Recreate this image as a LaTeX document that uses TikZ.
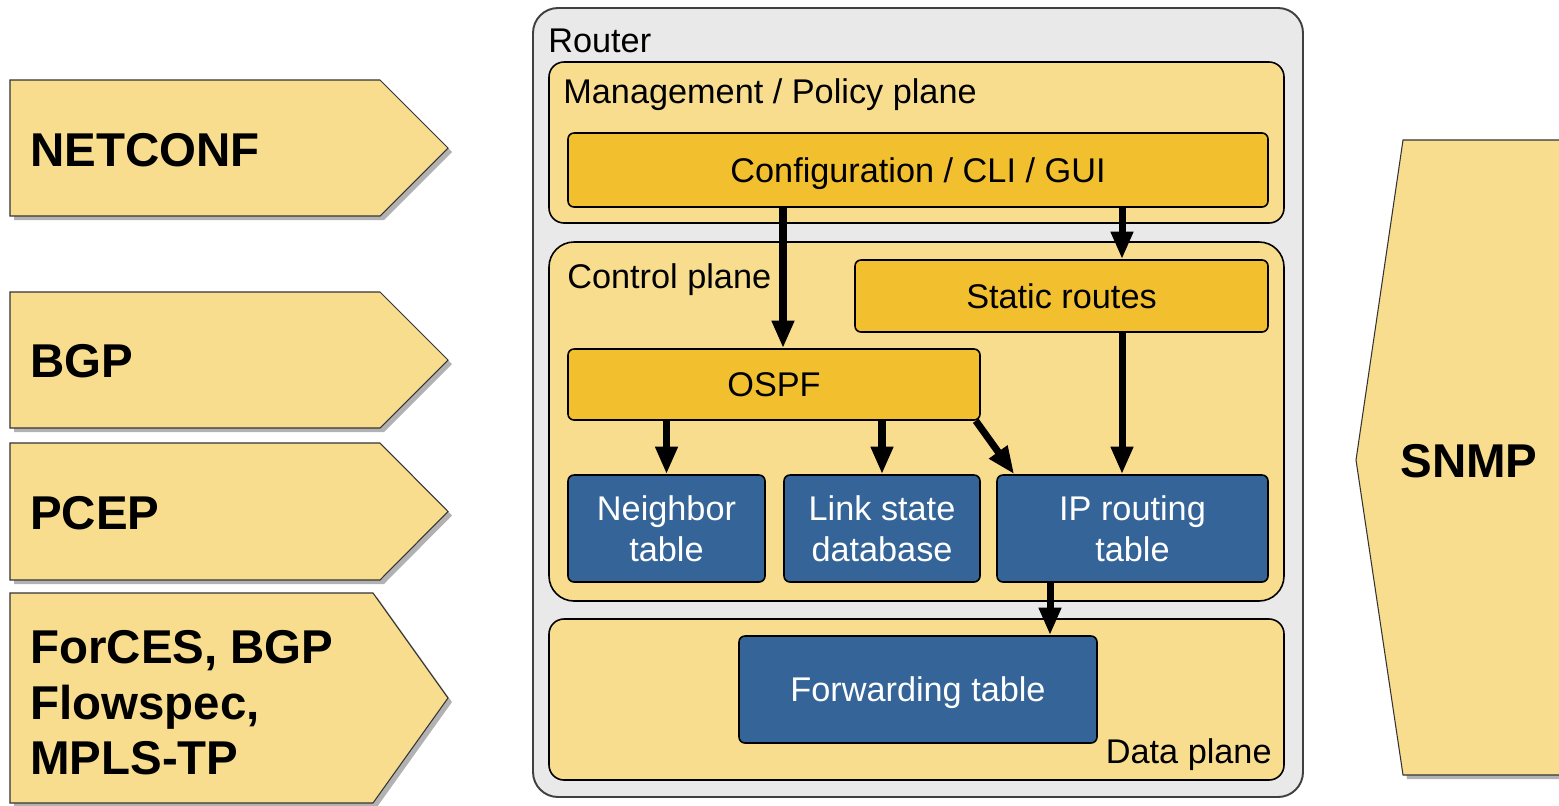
\documentclass[tikz,border=0pt]{standalone}
\usepackage{fontspec}
\setmainfont{Liberation Sans}
\usetikzlibrary{arrows.meta,positioning,shadows,calc}
\definecolor{planeyellow}{RGB}{248,221,143}
\definecolor{boxgold}{RGB}{242,192,46}
\definecolor{tableblue}{RGB}{53,101,152}
\definecolor{routergray}{RGB}{233,233,233}
\newcommand{\rtfont}{\fontsize{19.5}{23.3}\selectfont}

\begin{document}
\begin{tikzpicture}[
  plane/.style={draw=black, line width=0.9pt, fill=planeyellow, rounded corners=0.3cm, inner sep=0pt},
  funcbox/.style={draw=black, line width=0.9pt, fill=boxgold, rounded corners=0.12cm, inner sep=0pt,
    font=\rtfont, text height=14pt, text depth=0pt},
  tablebox/.style={draw=black, line width=0.9pt, fill=tableblue, text=white, rounded corners=0.12cm,
    inner sep=0pt, align=center, font=\rtfont},
  flow/.style={line width=4pt, -{Triangle[length=0.55cm,width=0.42cm]}},
  proto/.style={draw=black!80, line width=0.6pt, fill=planeyellow,
    drop shadow={shadow xshift=0.08cm, shadow yshift=-0.08cm, fill=black, opacity=0.3}},
  protolabel/.style={font=\fontsize{27}{31.5}\selectfont\bfseries, inner sep=0pt, align=left},
  planelabel/.style={font=\rtfont, inner sep=0pt},
]
\useasboundingbox (0,0) rectangle (31.18,-16.1);

% Protocols pointing at the router
\draw[proto] (0.2,-1.6) -- (7.6,-1.6) -- (8.96,-2.96) -- (7.6,-4.32) -- (0.2,-4.32) -- cycle;
\node[protolabel, anchor=base west] (netconf) at (0.6,-3.32) {NETCONF};
\draw[proto] (0.2,-5.84) -- (7.6,-5.84) -- (8.96,-7.2) -- (7.6,-8.56) -- (0.2,-8.56) -- cycle;
\node[protolabel, anchor=base west] (bgp) at (0.6,-7.55) {BGP};
\draw[proto] (0.2,-8.86) -- (7.6,-8.86) -- (8.96,-10.23) -- (7.6,-11.6) -- (0.2,-11.6) -- cycle;
\node[protolabel, anchor=base west] (pcep) at (0.6,-10.58) {PCEP};
\draw[proto] (0.2,-11.86) -- (7.46,-11.86) -- (8.96,-13.96) -- (7.46,-16.06) -- (0.2,-16.06) -- cycle;
\node[protolabel, anchor=west] (forces) at (0.6,-14.06) {ForCES, BGP\\Flowspec,\\MPLS-TP};

% SNMP on the right
\draw[proto] (31.6,-2.8) -- (28.06,-2.8) -- (27.12,-9.2) -- (28.06,-15.5) -- (31.6,-15.5);
\node[protolabel, anchor=base west] (snmp) at (28.0,-9.54) {SNMP};

% Router and its planes
\node[draw=black!75, line width=1.1pt, fill=routergray, rounded corners=0.5cm, inner sep=0pt,
  minimum width=15.4cm, minimum height=15.78cm] (router) at (18.36,-8.05) {};
\node[planelabel, anchor=base west] (routerlbl) at (10.96,-1.05) {Router};

\node[plane, minimum width=14.7cm, minimum height=3.22cm] (mgmt) at (18.33,-2.85) {};
\node[planelabel, anchor=base west] (mgmtlbl) at (11.26,-2.06) {Management / Policy plane};
\node[plane, rounded corners=0.5cm, minimum width=14.7cm, minimum height=7.18cm] (ctrl) at (18.33,-8.43) {};
\node[planelabel, anchor=base west] (ctrllbl) at (11.34,-5.76) {Control plane};
\node[plane, minimum width=14.7cm, minimum height=3.22cm] (data) at (18.33,-13.99) {};
\node[planelabel, anchor=base east] (datalbl) at (25.44,-15.26) {Data plane};

% Functions
\node[funcbox, minimum width=14cm, minimum height=1.48cm] (cfg) at (18.36,-3.4) {Configuration / CLI / GUI};
\node[funcbox, minimum width=8.26cm, minimum height=1.44cm] (stat) at (21.23,-5.92) {Static routes};
\node[funcbox, minimum width=8.24cm, minimum height=1.42cm] (ospf) at (15.48,-7.69) {OSPF};

% Tables
\node[tablebox, minimum width=3.94cm, minimum height=2.14cm] (nbr) at (13.33,-10.57) {Neighbor\\table};
\node[tablebox, minimum width=3.92cm, minimum height=2.14cm] (lsdb) at (17.64,-10.57) {Link state\\database};
\node[tablebox, minimum width=5.42cm, minimum height=2.14cm] (rib) at (22.65,-10.57) {IP routing\\table};
\node[tablebox, minimum width=7.16cm, minimum height=2.14cm, text height=14pt, text depth=0pt] (fib) at (18.36,-13.79) {Forwarding table};

% Arrows
\draw[flow] (cfg.south -| 15.66,0) -- (ospf.north -| 15.66,0);
\draw[flow] (cfg.south -| 22.44,0) -- (stat.north -| 22.44,0);
\draw[flow] (stat.south -| 22.44,0) -- (rib.north -| 22.44,0);
\draw[flow] (ospf.south -| nbr.north) -- (nbr.north);
\draw[flow] (ospf.south -| lsdb.north) -- (lsdb.north);
\draw[flow] ($(ospf.south east)+(-0.1,0)$) -- ($(rib.north west)+(0.36,0)$);
\draw[flow] (rib.south -| 21,0) -- (fib.north -| 21,0);

\end{tikzpicture}
\end{document}
